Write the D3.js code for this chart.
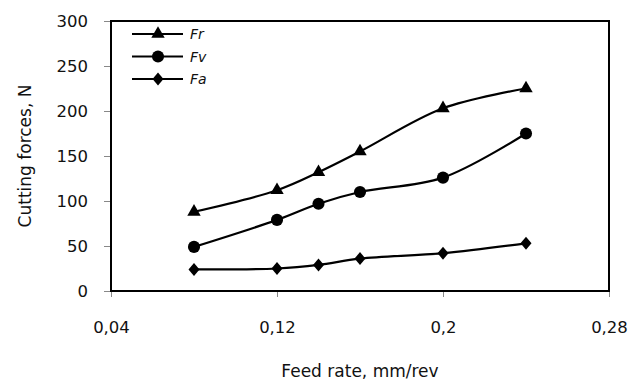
<!DOCTYPE html>
<html>
<head>
<meta charset="utf-8">
<script src="https://cdn.jsdelivr.net/npm/d3@7/dist/d3.min.js"></script>
<style>
  html, body { margin: 0; padding: 0; background: #fff; }
  svg { display: block; }
  text { font-family: "DejaVu Sans", sans-serif; fill: #111; }
</style>
</head>
<body>
<svg id="chart" width="641" height="381"></svg>
<script>
// Feed rate (mm/rev) and measured cutting force components (N)
const feedRates = [0.08, 0.12, 0.14, 0.16, 0.20, 0.24];
const forceFr = [88, 112, 132, 155, 203, 225];
const forceFv = [49, 79, 97, 110, 126, 175];
const forceFa = [24, 25, 29, 36, 42, 53];
const seriesNames = ["Fr", "Fv", "Fa"];
const xTicks = [0.04, 0.12, 0.2, 0.28];
const xTickLabels = ["0,04", "0,12", "0,2", "0,28"];
const yTicks = [0, 50, 100, 150, 200, 250, 300];

const FONT = "'DejaVu Sans', sans-serif";
const svg = d3.select("#chart");
const plot = { left: 111, right: 609, top: 21, bottom: 291 };

const x = d3.scaleLinear().domain([0.04, 0.28]).range([plot.left, plot.right]);
const y = d3.scaleLinear().domain([0, 300]).range([plot.bottom, plot.top]);

// Y axis ticks and labels
const yAxis = d3.axisLeft(y).tickValues(yTicks).tickSize(7).tickPadding(16).tickFormat(d3.format("d"));
const gy = svg.append("g").attr("transform", `translate(${plot.left},0)`).call(yAxis);
gy.select(".domain").remove();
gy.selectAll(".tick line").attr("stroke", "#888").attr("stroke-width", 1);
gy.selectAll(".tick text").attr("font-size", 16.5).attr("font-family", FONT).attr("fill", "#111");

// X axis ticks and labels
const xAxis = d3.axisBottom(x).tickValues(xTicks).tickSize(6).tickPadding(24)
  .tickFormat((d, i) => xTickLabels[i]);
const gx = svg.append("g").attr("transform", `translate(0,${plot.bottom})`).call(xAxis);
gx.select(".domain").remove();
gx.selectAll(".tick line").attr("stroke", "#888").attr("stroke-width", 1);
gx.selectAll(".tick text").attr("font-size", 16.5).attr("font-family", FONT).attr("fill", "#111");

// Plot frame
svg.append("rect")
  .attr("x", plot.left).attr("y", plot.top)
  .attr("width", plot.right - plot.left).attr("height", plot.bottom - plot.top)
  .attr("fill", "none").attr("stroke", "#000").attr("stroke-width", 2);

// Axis titles
svg.append("text")
  .attr("x", (plot.left + plot.right) / 2).attr("y", 377)
  .attr("text-anchor", "middle").attr("font-size", 17)
  .text("Feed rate, mm/rev");
svg.append("text")
  .attr("transform", `translate(31,${(plot.top + plot.bottom) / 2}) rotate(-90)`)
  .attr("text-anchor", "middle").attr("font-size", 17)
  .text("Cutting forces, N");

// Marker shapes
const diamond = {
  draw(ctx) {
    ctx.moveTo(0, -6.5);
    ctx.lineTo(5.5, 0);
    ctx.lineTo(0, 6.5);
    ctx.lineTo(-5.5, 0);
    ctx.closePath();
  }
};
const markers = {
  Fr: d3.symbol().type(d3.symbolTriangle).size(78),
  Fv: d3.symbol().type(d3.symbolCircle).size(115),
  Fa: d3.symbol().type(diamond)
};

const series = [
  { name: "Fr", values: forceFr },
  { name: "Fv", values: forceFv },
  { name: "Fa", values: forceFa }
];

const line = d3.line()
  .x(d => x(d[0]))
  .y(d => y(d[1]))
  .curve(d3.curveCatmullRom.alpha(0.5));

series.forEach(s => {
  const pts = feedRates.map((f, i) => [f, s.values[i]]);
  svg.append("path")
    .datum(pts)
    .attr("d", line)
    .attr("fill", "none")
    .attr("stroke", "#000")
    .attr("stroke-width", 2.2);
  svg.selectAll(null)
    .data(pts)
    .enter()
    .append("path")
    .attr("d", markers[s.name]())
    .attr("transform", d => `translate(${x(d[0])},${y(d[1])})`)
    .attr("fill", "#000");
});

// Legend
const legendRows = [34, 56.5, 79];
seriesNames.forEach((name, i) => {
  const ly = legendRows[i];
  svg.append("line")
    .attr("x1", 132).attr("x2", 183).attr("y1", ly).attr("y2", ly)
    .attr("stroke", "#000").attr("stroke-width", 2.2);
  svg.append("path")
    .attr("d", markers[name]())
    .attr("transform", `translate(158,${ly})`)
    .attr("fill", "#000");
  svg.append("text")
    .attr("x", 190).attr("y", ly + 5)
    .attr("font-size", 14).attr("font-style", "italic")
    .text(name);
});
</script>
</body>
</html>
